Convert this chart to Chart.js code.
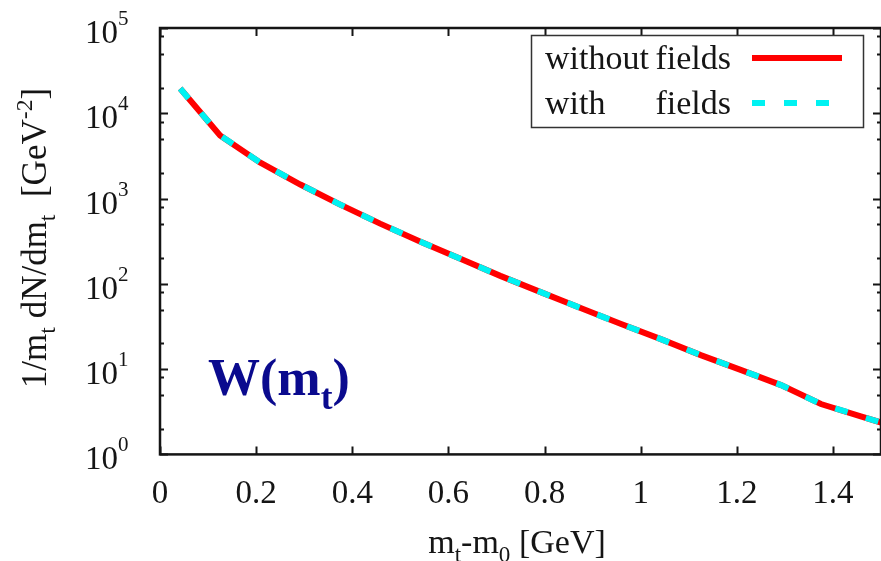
<!DOCTYPE html>
<html><head><meta charset="utf-8">
<script src="https://cdn.jsdelivr.net/npm/chart.js@4/dist/chart.umd.min.js"></script>
<style>html,body{margin:0;padding:0;background:#fff;overflow:hidden}</style>
</head><body>
<canvas id="c" width="881" height="561"></canvas>
<script>
// ---- data ----
const xValues = [0.042,0.125,0.208,0.292,0.375,0.458,0.542,0.625,0.708,0.792,0.875,0.958,1.042,1.125,1.208,1.292,1.375,1.458,1.542];
const withoutFields = [19500,5500,2650,1460,850,508,312,197,124,80,52,34,22.5,14.6,9.8,6.5,3.9,2.8,2.0];
const withFields    = [19500,5500,2650,1460,850,508,312,197,124,80,52,34,22.5,14.6,9.8,6.5,3.9,2.8,2.0];
const seriesLabels = ['without fields', 'with fields'];
const xTickValues = [0,0.2,0.4,0.6,0.8,1.0,1.2,1.4];
const yTickValues = [1,10,100,1000,10000,100000];
const yMinorFactors = [2,5,8];
const xTitle = [{t:'m'},{t:'t',sub:true},{t:'-m'},{t:'0',sub:true},{t:' [GeV]'}];
const yTitle = [{t:'1/m'},{t:'t',sub:true},{t:' dN/dm'},{t:'t',sub:true},{t:'  [GeV'},{t:'-2',sup:true},{t:']'}];
const panelLabel = [{t:'W(m'},{t:'t',sub:true},{t:')'}];

const FAM = '"Liberation Serif","Times New Roman",serif';
const INK = '#151515';

function drawRich(ctx, parts, x, y, size, opts) {
  opts = opts || {};
  const w = opts.weight || 'normal';
  const small = size * 0.68;
  const widths = parts.map(p => { ctx.font = `${w} ${(p.sub||p.sup)?small:size}px ${FAM}`; return ctx.measureText(p.t).width; });
  const total = widths.reduce((a,b)=>a+b,0);
  let cx = opts.align==='center' ? x-total/2 : opts.align==='right' ? x-total : x;
  ctx.textAlign='left'; ctx.textBaseline='alphabetic'; ctx.fillStyle = opts.color || INK;
  parts.forEach((p,i)=>{
    ctx.font = `${w} ${(p.sub||p.sup)?small:size}px ${FAM}`;
    const dy = p.sub ? size*0.26 : p.sup ? -size*0.40 : 0;
    ctx.fillText(p.t, cx, y+dy);
    cx += widths[i];
  });
}

const decor = {
  id: 'decor',
  afterDraw(chart) {
    const ctx = chart.ctx, a = chart.chartArea;
    const xs = chart.scales.x, ys = chart.scales.y;
    ctx.save();
    // frame
    ctx.strokeStyle = INK; ctx.lineWidth = 2.5;
    ctx.strokeRect(a.left, a.top, a.right - a.left, a.bottom - a.top);
    // x ticks (inward, mirrored)
    ctx.lineWidth = 2;
    ctx.beginPath();
    xTickValues.forEach(v => {
      const px = Math.round(xs.getPixelForValue(v)) + 0.5;
      ctx.moveTo(px, a.bottom); ctx.lineTo(px, a.bottom - 8);
      ctx.moveTo(px, a.top); ctx.lineTo(px, a.top + 8);
    });
    // y ticks
    yTickValues.forEach((v, i) => {
      const py = Math.round(ys.getPixelForValue(v)) + 0.5;
      ctx.moveTo(a.left, py); ctx.lineTo(a.left + 8, py);
      ctx.moveTo(a.right, py); ctx.lineTo(a.right - 8, py);
      if (i < yTickValues.length - 1) {
        yMinorFactors.forEach(f => {
          const pm = Math.round(ys.getPixelForValue(v * f)) + 0.5;
          ctx.moveTo(a.left, pm); ctx.lineTo(a.left + 4, pm);
          ctx.moveTo(a.right, pm); ctx.lineTo(a.right - 4, pm);
        });
      }
    });
    ctx.stroke();
    // y tick labels 10^n
    ctx.fillStyle = INK;
    yTickValues.forEach(v => {
      const py = ys.getPixelForValue(v);
      const e = Math.round(Math.log10(v));
      ctx.font = `33px ${FAM}`; ctx.textAlign = 'right'; ctx.textBaseline = 'alphabetic';
      ctx.fillText('10', 118, py + 15);
      ctx.font = `21px ${FAM}`; ctx.textAlign = 'left';
      ctx.fillText(String(e), 118, py - 3);
    });
    // axis titles
    drawRich(ctx, xTitle, 517, 553, 34, {align:'center'});
    ctx.save();
    ctx.translate(46, 238); ctx.rotate(-Math.PI/2);
    drawRich(ctx, yTitle, 0, 0, 35, {align:'center'});
    ctx.restore();
    // panel label
    drawRich(ctx, panelLabel, 208, 395, 52, {weight:'bold', color:'#0a0a8e'});
    // legend
    const bx = 531, by = 35, bw = 332, bh = 92;
    ctx.fillStyle = '#fff'; ctx.fillRect(bx, by, bw, bh);
    ctx.strokeStyle = '#333'; ctx.lineWidth = 1.5; ctx.strokeRect(bx + 0.5, by + 0.5, bw, bh);
    chart.data.datasets.forEach((ds, i) => {
      const cy = 58 + i * 45;
      const words = ds.label.split(' ');
      const first = words[0], rest = words.slice(1).join(' ');
      ctx.fillStyle = INK; ctx.font = `34px ${FAM}`; ctx.textBaseline = 'alphabetic';
      ctx.textAlign = 'left'; ctx.fillText(first, 545, cy + 11);
      ctx.textAlign = 'right'; ctx.fillText(rest, 731, cy + 11);
      ctx.beginPath();
      ctx.strokeStyle = ds.borderColor; ctx.lineWidth = ds.borderWidth;
      ctx.lineCap = 'butt';
      ctx.setLineDash(ds.borderDash || []);
      ctx.moveTo(752, cy); ctx.lineTo(842, cy);
      ctx.stroke();
      ctx.setLineDash([]);
    });
    ctx.restore();
  }
};

const toPts = (xsArr, ysArr) => xsArr.map((x, i) => ({x, y: ysArr[i]}));

new Chart(document.getElementById('c'), {
  type: 'line',
  data: {
    datasets: [
      { label: seriesLabels[0], order: 1, data: toPts(xValues, withoutFields), borderColor: '#ff0000', borderWidth: 6, pointRadius: 0, tension: 0, fill: false },
      { label: seriesLabels[1], order: 0, data: toPts(xValues, withFields), borderColor: '#00f2f2', borderWidth: 6, borderDash: [13, 19], borderCapStyle: 'butt', pointRadius: 0, tension: 0, fill: false }
    ]
  },
  options: {
    responsive: false,
    animation: false,
    devicePixelRatio: 1,
    layout: { padding: { left: 152, top: 28, right: -2, bottom: 35 } },
    plugins: { legend: { display: false }, tooltip: { enabled: false } },
    scales: {
      x: {
        type: 'linear', min: 0, max: 1.5,
        grid: { display: false }, border: { display: false },
        afterBuildTicks: s => { s.ticks = xTickValues.map(v => ({value: v})); },
        ticks: { padding: 12, color: INK, font: { family: FAM, size: 33 }, maxRotation: 0, autoSkip: false,
          callback: v => String(Number(Number(v).toFixed(2))) }
      },
      y: {
        type: 'logarithmic', min: 1, max: 100000,
        grid: { display: false }, border: { display: false },
        ticks: { display: false }
      }
    }
  },
  plugins: [decor]
});
</script>
</body></html>
